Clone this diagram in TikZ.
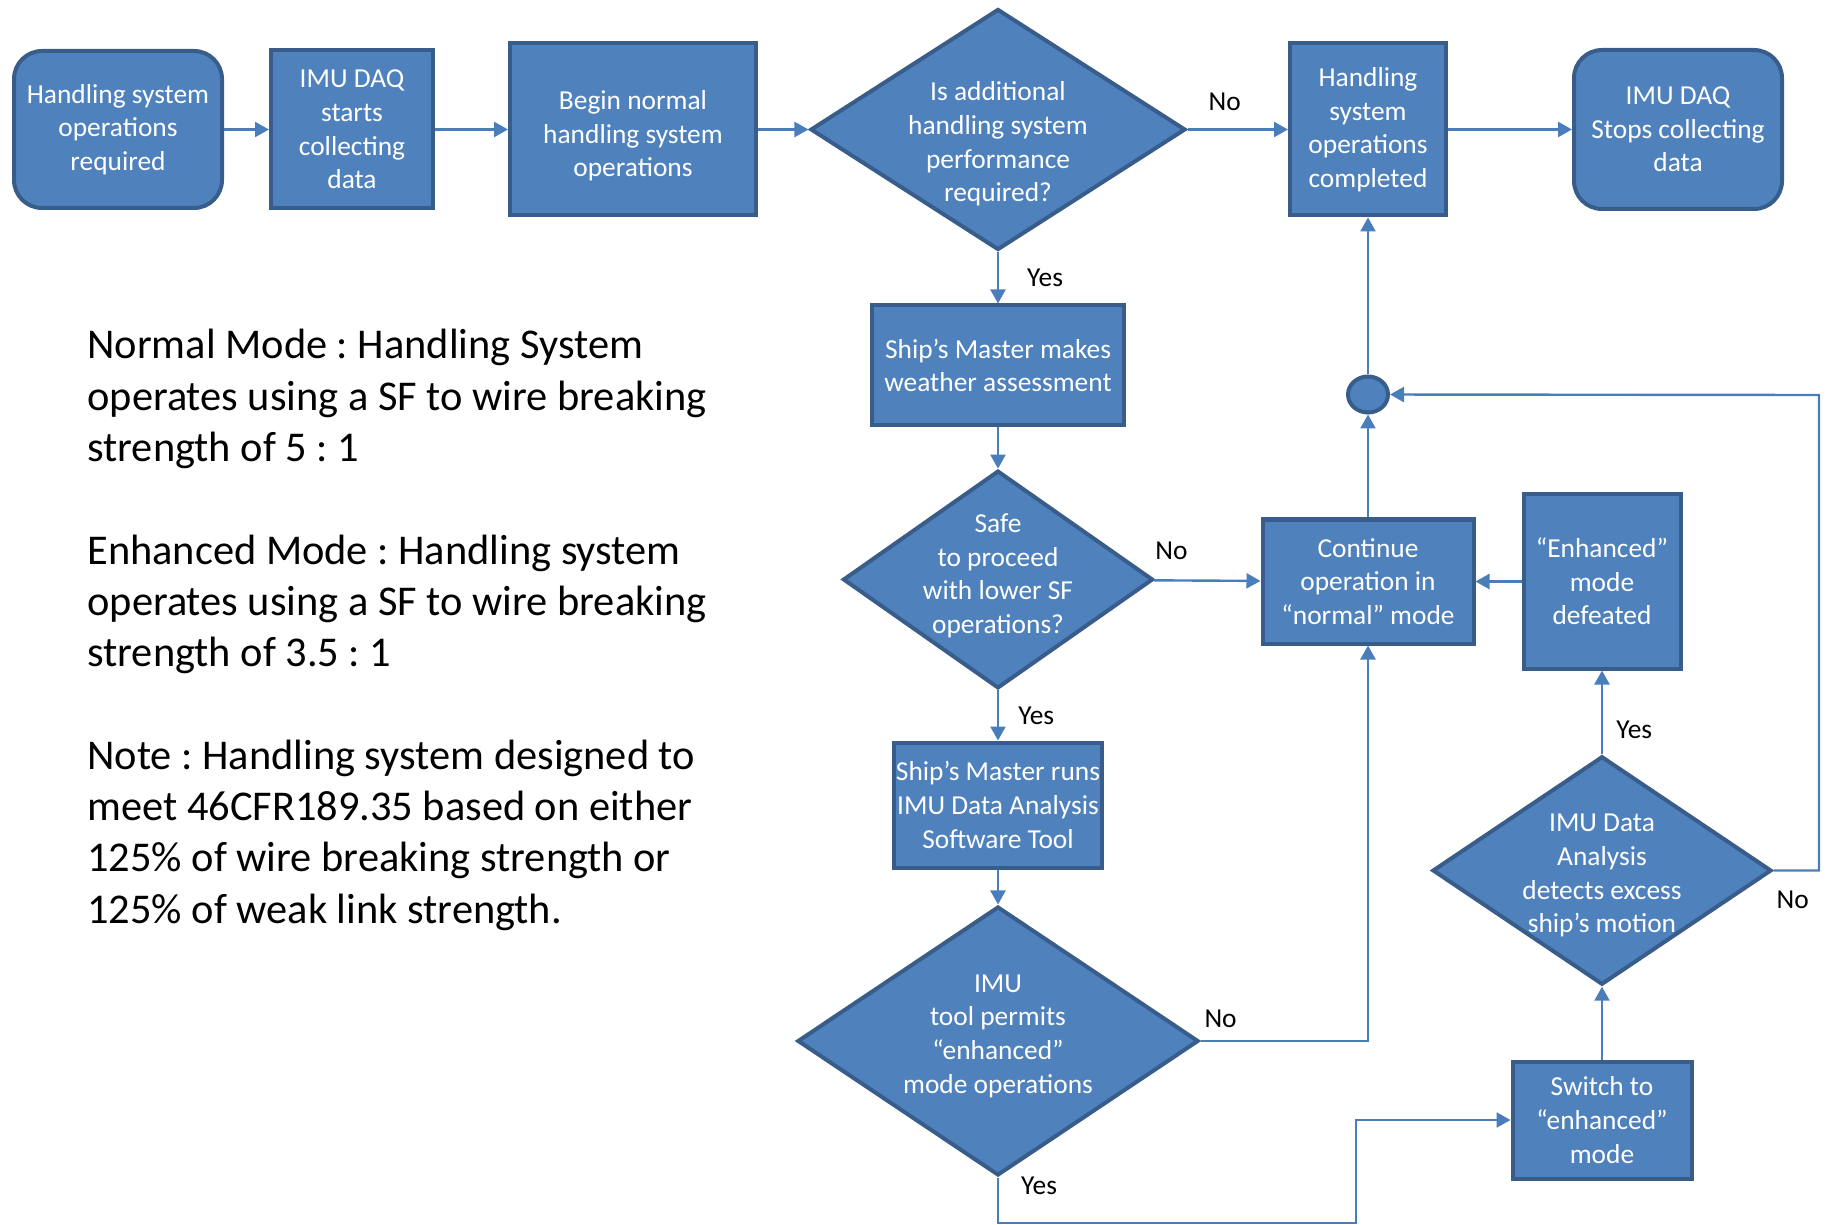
\documentclass[tikz,border=0pt]{standalone}
\usepackage{fontspec}
\setmainfont{Carlito}
\frenchspacing
\usetikzlibrary{positioning,shapes.geometric,arrows.meta}
\definecolor{boxfill}{HTML}{4F81BD}
\definecolor{boxline}{HTML}{385D8A}
\definecolor{flowline}{HTML}{4A7EBB}
\newcommand{\boxfont}{\fontsize{13.7}{16.8}\selectfont}
\newcommand{\notefont}{\fontsize{21.2}{25.65}\selectfont}

\begin{document}
\begin{tikzpicture}[x=0.5pt, y=-0.5pt, on grid,
  proc/.style={draw=boxline, fill=boxfill, line width=2pt, text=white, align=center, inner sep=0pt, font=\boxfont},
  term/.style={proc, rounded corners=14pt},
  decision/.style={proc, diamond, inner sep=-8pt},
  joint/.style={proc, ellipse, minimum width=20pt, minimum height=18pt},
  flow/.style={draw=flowline, line width=1.2pt, -{Triangle[length=7pt,width=7.5pt]}},
  lbl/.style={font=\boxfont, text=black, inner sep=0pt},
  note/.style={align=left, inner sep=0pt, font=\notefont}]
\useasboundingbox (0,0) rectangle (1828,1225);

\node[term, minimum width=104pt, minimum height=78.5pt] (start) at (118,129.5) {Handling system\\operations\\required};
\node[proc, minimum width=81pt, minimum height=79pt, right=117pt of start] (daqon) {IMU DAQ\\starts\\collecting\\data};
\node[proc, minimum width=123pt, minimum height=86pt, right=140.5pt of daqon] (begin) {\rule{0pt}{16pt}Begin normal\\handling system\\operations};
\node[decision, inner sep=-20pt, minimum width=187.5pt, minimum height=120.5pt, right=182.5pt of begin] (more) {\rule{0pt}{24pt}Is additional\\handling system\\performance\\required?};
\node[proc, minimum width=78pt, minimum height=86pt, right=185pt of more] (done) {Handling\\system\\operations\\completed};
\node[term, minimum width=104pt, minimum height=79.5pt, right=155pt of done] (daqoff) {IMU DAQ\\Stops collecting\\data};

\node[proc, minimum width=126pt, minimum height=60pt, below=118pt of more] (weather) {Ship’s Master makes\\weather assessment};
\node[decision, minimum width=155pt, minimum height=107.5pt, below=107pt of weather] (safe) {Safe\\to proceed\\with lower SF\\operations?\rule[-6pt]{0pt}{0pt}};
\node[proc, minimum width=104pt, minimum height=62.5pt, below=112.75pt of safe] (runtool) {Ship’s Master runs\\IMU Data Analysis\\Software Tool};
\node[decision, minimum width=200.5pt, minimum height=134.5pt, below=118pt of runtool] (permit) {IMU\\tool permits\\“enhanced”\\mode operations\rule[-7pt]{0pt}{0pt}};

\node[joint, below=132.5pt of done] (merge) {};
\node[proc, minimum width=105.5pt, minimum height=62pt, below=93.5pt of merge] (normal) {Continue\\operation in\\“normal” mode};
\node[proc, minimum width=78.5pt, minimum height=87pt, right=117pt of normal] (defeat) {“Enhanced”\\mode\\defeated};
\node[decision, minimum width=169.5pt, minimum height=113pt, below=144.5pt of defeat] (excess) {\rule{0pt}{14pt}IMU Data\\Analysis\\detects excess\\ship’s motion};
\node[proc, minimum width=89.5pt, minimum height=58.5pt, below=124.75pt of excess] (enh) {Switch to\\“enhanced”\\mode};

\node[note, anchor=north west] (notes) at (87,329) {Normal Mode : Handling System\\operates using a SF to wire breaking\\strength of 5 : 1\\[25.65pt]Enhanced Mode : Handling system\\operates using a SF to wire breaking\\strength of 3.5 : 1\\[25.65pt]Note : Handling system designed to\\meet 46CFR189.35 based on either\\125\% of wire breaking strength or\\125\% of weak link strength.};

\coordinate (low) at (1356,1223);
\coordinate (rim) at (1819,395);

\draw[flow] (start) -- (daqon);
\draw[flow] (daqon) -- (begin);
\draw[flow] (begin) -- (more);
\draw[flow] (more) -- node[lbl, pos=0.37, anchor=south, yshift=9pt] {No} (done);
\draw[flow] (done) -- (daqoff);
\draw[flow] (more) -- node[lbl, anchor=west, xshift=14pt] {Yes} (weather);
\draw[flow] (weather) -- (safe);
\draw[flow] (safe) -- node[lbl, pos=0.165, anchor=south, yshift=9.6pt] {No} (normal);
\draw[flow] (safe) -- node[lbl, anchor=west, xshift=9.6pt] {Yes} (runtool);
\draw[flow] (runtool) -- (permit);
\draw[flow] (permit.east) -| node[lbl, pos=0.06, anchor=south, yshift=6pt] {No} (normal.south);
\draw[flow] (permit.south) |- node[lbl, pos=0.09, anchor=west, xshift=11pt] {Yes} (low) |- (enh.west);
\draw[flow] (enh) -- (excess);
\draw[flow] (excess) -- node[lbl, pos=0.29, anchor=west, xshift=6.6pt] {Yes} (defeat);
\draw[flow] (excess.east) -| node[lbl, pos=0.21, anchor=north, yshift=-9.6pt] {No} (rim) -- (merge);
\draw[flow] (defeat) -- (normal);
\draw[flow] (normal) -- (merge);
\draw[flow] (merge) -- (done);
\end{tikzpicture}
\end{document}
